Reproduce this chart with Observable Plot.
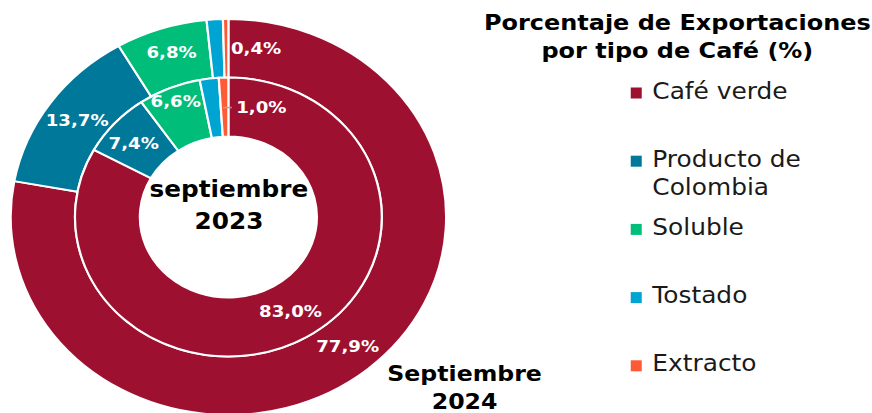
<!DOCTYPE html>
<html lang="es">
<head>
<meta charset="utf-8">
<script src="https://cdn.jsdelivr.net/npm/d3@7"></script>
<script src="https://cdn.jsdelivr.net/npm/@observablehq/plot@0.6"></script>
<style>
html,body{margin:0;padding:0;background:#fff;}
#chart svg{display:block}
</style>
</head>
<body>
<div id="chart"></div>
<script>
// ---------- data ----------
const categories = ["Café verde", "Producto de Colombia", "Soluble", "Tostado", "Extracto"];
const legendLabels = ["Café verde", "Producto de\nColombia", "Soluble", "Tostado", "Extracto"];
const colors = ["#9E1030", "#00789A", "#00BE7A", "#00A4D3", "#FF5A36"];
const sep2024 = [77.9, 13.7, 6.8, 1.2, 0.4];
const sep2023 = [83.0, 7.4, 6.6, 2.0, 1.0];
const innerTitle = "septiembre\n2023";
const outerTitle = "Septiembre\n2024";
const chartTitle = "Porcentaje de Exportaciones\npor tipo de Café (%)";

// ---------- layout ----------
const W = 793, H = 413, OUT_W = 872;
const cx = 207.7, cy = 217;
const rHole = 80.5, rMid = 139.5, rOut = 198;
const FONT = "DejaVu Sans";
const labelAdj2024 = [{}, {}, {dy: -4}, null, {dx: 4, anchor: "start"}];
const labelAdj2023 = [{}, {dx: -5}, {dx: -6, dy: -14}, null, {dx: 10, anchor: "start", leader: true}];
const fmt = v => d3.format(".1f")(v).replace(".", ",") + "%";

const rings = [
  {values: sep2024, r0: rMid, r1: rOut, adj: labelAdj2024},
  {values: sep2023, r0: rHole, r1: rMid, adj: labelAdj2023}
];

const sliceLabels = [], leaders = [];
for (const ring of rings) {
  const arcs = d3.pie().sort(null).value(d => d)(ring.values);
  const arc = d3.arc().innerRadius(ring.r0).outerRadius(ring.r1);
  arcs.forEach((a, i) => {
    const adj = ring.adj[i];
    if (!adj) return;
    const [px, py] = arc.centroid(a);
    const x = cx + px + (adj.dx || 0), y = cy + py + (adj.dy || 0);
    sliceLabels.push({x, y, text: fmt(ring.values[i]), anchor: adj.anchor || "middle"});
    if (adj.leader) leaders.push({x1: cx + px - 2, x2: x - 4, y: cy + py});
  });
}

function donut(ring) {
  return (index, scales) => {
    const X = scales.x, Y = scales.y;
    const C = scales.color || (c => colors[categories.indexOf(c)]);
    const arcs = d3.pie().sort(null).value(d => d)(ring.values);
    const arc = d3.arc().innerRadius(ring.r0).outerRadius(ring.r1);
    const g = d3.create("svg:g").attr("transform", `translate(${X(cx)},${Y(cy)})`);
    g.selectAll("path").data(arcs).join("path")
      .attr("d", arc)
      .attr("fill", (d, i) => C(categories[i]))
      .attr("stroke", "#fff")
      .attr("stroke-width", 2)
      .attr("stroke-linejoin", "round");
    return g.node();
  };
}

const LEG_FS = 22.6;
const legendRows = categories.map((c, i) => ({cat: c, label: legendLabels[i], y: 91.5 + i * 68.2}));

const chart = Plot.plot({
  width: W,
  height: H,
  margin: 0,
  x: {domain: [0, W], range: [0, W], axis: null},
  y: {domain: [0, H], range: [0, H], axis: null},
  color: {domain: categories, range: colors},
  marks: [
    donut(rings[0]),
    donut(rings[1]),
    Plot.link(leaders, {x1: "x1", x2: "x2", y1: "y", y2: "y", stroke: "#a6a6a6", strokeWidth: 1.5}),
    Plot.text(sliceLabels.filter(d => d.anchor === "middle"), {x: "x", y: "y", text: "text", fill: "#fff", fontSize: 16.5, fontWeight: "bold", fontFamily: FONT, textAnchor: "middle"}),
    Plot.text(sliceLabels.filter(d => d.anchor === "start"), {x: "x", y: "y", text: "text", fill: "#fff", fontSize: 16.5, fontWeight: "bold", fontFamily: FONT, textAnchor: "start"}),
    Plot.text([innerTitle], {x: cx, y: 202.5, text: d => d, fill: "#000", fontSize: 22.5, fontWeight: "bold", fontFamily: FONT, lineHeight: 1.42, textAnchor: "middle"}),
    Plot.text([outerTitle], {x: 422, y: 386, text: d => d, fill: "#000", fontSize: 21.5, fontWeight: "bold", fontFamily: FONT, lineHeight: 1.3, textAnchor: "middle"}),
    Plot.text([chartTitle], {x: 615.5, y: 9, text: d => d, fill: "#000", fontSize: 21.8, fontWeight: "bold", fontFamily: FONT, lineHeight: 1.3, lineAnchor: "top", textAnchor: "middle"}),
    Plot.rect(legendRows, {x1: () => 573.6, x2: () => 583.6, y1: d => d.y - 4, y2: d => d.y + 7, fill: "cat"}),
    Plot.text(legendRows, {x: () => 592.7, y: d => d.y - 0.365 * LEG_FS - 5, text: "label", fill: "#1a1a1a", fontSize: LEG_FS, fontFamily: FONT, lineHeight: 28 / LEG_FS, lineAnchor: "top", textAnchor: "start"})
  ]
});

chart.setAttribute("preserveAspectRatio", "none");
chart.setAttribute("width", OUT_W);
chart.setAttribute("height", H);
chart.setAttribute("style", "display:block;width:" + OUT_W + "px;height:" + H + "px;max-width:none;background:#fff;overflow:hidden");
document.getElementById("chart").appendChild(chart);
</script>
</body>
</html>
